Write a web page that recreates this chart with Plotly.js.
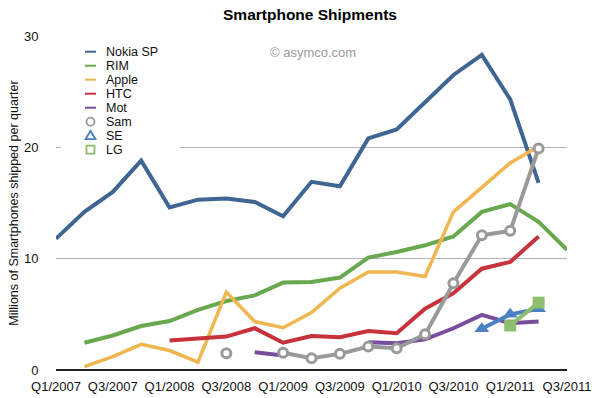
<!DOCTYPE html>
<html>
<head>
<meta charset="utf-8">
<script src="https://cdn.plot.ly/plotly-3.0.1.min.js"></script>
<style>html,body{margin:0;padding:0;background:#fff;}#chart{width:592px;height:398px;}</style>
</head>
<body>
<div id="chart"></div>
<script>
const quarters = ["Q1/2007","Q2/2007","Q3/2007","Q4/2007","Q1/2008","Q2/2008","Q3/2008","Q4/2008","Q1/2009","Q2/2009","Q3/2009","Q4/2009","Q1/2010","Q2/2010","Q3/2010","Q4/2010","Q1/2011","Q2/2011","Q3/2011"];
const tickLabels = ["Q1/2007","Q3/2007","Q1/2008","Q3/2008","Q1/2009","Q3/2009","Q1/2010","Q3/2010","Q1/2011","Q3/2011"];
const yTicks = [0, 10, 20, 30];

const seriesNames = ["Nokia SP","RIM","Apple","HTC","Mot","Sam","SE","LG"];
const nokia = [11.8,14.2,16.0,18.8,14.6,15.3,15.4,15.1,13.8,16.9,16.5,20.8,21.6,24.0,26.5,28.3,24.3,16.8,null];
const rim   = [null,2.45,3.1,3.95,4.4,5.4,6.2,6.7,7.85,7.9,8.3,10.1,10.6,11.2,12.0,14.2,14.9,13.3,10.8];
const apple = [null,0.3,1.2,2.3,1.75,0.7,7.0,4.35,3.8,5.15,7.35,8.8,8.8,8.4,14.2,16.4,18.6,20.1,null];
const htc   = [null,null,null,null,2.65,2.8,3.0,3.75,2.45,3.05,2.95,3.5,3.3,5.5,6.9,9.1,9.7,12.0,null];
const mot   = [null,null,null,null,null,null,null,1.6,1.3,null,null,2.5,2.4,2.75,3.75,4.95,4.2,4.35,null];
const sam   = [null,null,null,null,null,null,1.5,null,1.55,1.05,1.45,2.1,1.95,3.2,7.8,12.1,12.5,19.9,null];
const se    = [null,null,null,null,null,null,null,null,null,null,null,null,null,null,null,3.7,5.0,5.5,null];
const lg    = [null,null,null,null,null,null,null,null,null,null,null,null,null,null,null,null,4.0,6.05,null];

const colors = ['#3f6592','#68a84f','#f0b650','#c8323c','#7a4c9c','#9a9a9a','#4a80c4','#8dbe6f'];
const values = [nokia, rim, apple, htc, mot, sam, se, lg];
const markerSymbols = [null,null,null,null,null,'circle','triangle-up','square'];
const markerSizes = [0,0,0,0,0,9,13,12];

const traces = values.map((y, i) => {
  const t = {x: quarters, y: y, name: seriesNames[i], type: 'scatter',
    mode: markerSymbols[i] ? 'lines+markers' : 'lines', cliponaxis: false,
    showlegend: false, line: {color: colors[i], width: i === 2 ? 3.5 : 4}};
  if (markerSymbols[i]) {
    t.marker = markerSymbols[i] === 'circle'
      ? {symbol: 'circle', size: markerSizes[i], color: '#ffffff', line: {color: colors[i], width: 3}}
      : {symbol: markerSymbols[i], size: markerSizes[i], color: colors[i]};
  }
  return t;
});

// plot area geometry in pixels (for the hand-built legend)
const W = 592, H = 398, ML = 56, MR = 25, MT = 36, MB = 28;
const PW = W - ML - MR, PH = H - MT - MB;
const px = v => (v - ML) / PW;
const py = v => (H - MB - v) / PH;

const shapes = [{type: 'rect', xref: 'paper', yref: 'paper', x0: px(61), x1: px(180), y0: py(43), y1: py(156),
  fillcolor: '#ffffff', line: {width: 0}, layer: 'above'}];
const annotations = [];
seriesNames.forEach((name, i) => {
  const cy = 51.7 + 14 * i;
  const m = markerSymbols[i];
  if (!m) {
    shapes.push({type: 'line', xref: 'paper', yref: 'paper', x0: px(85), x1: px(96), y0: py(cy), y1: py(cy),
      line: {color: colors[i], width: 2}, layer: 'above'});
  } else if (m === 'circle') {
    shapes.push({type: 'circle', xref: 'paper', yref: 'paper', x0: px(86.5), x1: px(94.5), y0: py(cy - 4), y1: py(cy + 4),
      line: {color: colors[i], width: 1.8}, fillcolor: '#ffffff', layer: 'above'});
  } else if (m === 'triangle-up') {
    shapes.push({type: 'path', xref: 'paper', yref: 'paper',
      path: `M ${px(90.5)} ${py(cy - 5)} L ${px(95.5)} ${py(cy + 3.5)} L ${px(85.5)} ${py(cy + 3.5)} Z`,
      line: {color: colors[i], width: 1.8}, fillcolor: '#ffffff', layer: 'above'});
  } else {
    shapes.push({type: 'rect', xref: 'paper', yref: 'paper', x0: px(86.5), x1: px(94.5), y0: py(cy - 4), y1: py(cy + 4),
      line: {color: colors[i], width: 1.8}, fillcolor: '#ffffff', layer: 'above'});
  }
  annotations.push({text: name, xref: 'paper', yref: 'paper', x: px(104), y: py(cy),
    xanchor: 'left', yanchor: 'middle', showarrow: false, font: {size: 12.5, color: '#111'}});
});
annotations.push({text: '© asymco.com', xref: 'paper', yref: 'paper', x: px(268), y: py(52),
  xanchor: 'left', yanchor: 'middle', showarrow: false, font: {size: 13, color: '#9a9a9a'}});

const layout = {
  width: W, height: H,
  margin: {l: ML, r: MR, t: MT, b: MB, pad: 0},
  paper_bgcolor: '#ffffff', plot_bgcolor: '#ffffff',
  font: {family: 'Liberation Sans, Arial, sans-serif', color: '#111', size: 13},
  title: {text: 'Smartphone Shipments', font: {size: 15.5, color: '#000', weight: 'bold'},
    xref: 'paper', x: px(310), xanchor: 'center', yref: 'container', y: 1 - 15 / H, yanchor: 'middle'},
  showlegend: false,
  xaxis: {type: 'category', categoryorder: 'array', categoryarray: quarters,
    range: [0, 18], tickmode: 'array', tickvals: tickLabels, ticktext: tickLabels,
    showgrid: false, zeroline: false, showline: false,
    ticks: 'outside', ticklen: 4, tickcolor: 'rgba(0,0,0,0)',
    tickfont: {size: 13, color: '#111'}, fixedrange: true},
  yaxis: {range: [0, 30], tickmode: 'array', tickvals: yTicks,
    showgrid: true, gridcolor: '#b4b4b4', gridwidth: 1, zeroline: true,
    zerolinecolor: '#222', zerolinewidth: 1.5, showline: false,
    ticks: 'outside', ticklen: 14, tickcolor: 'rgba(0,0,0,0)',
    tickfont: {size: 13, color: '#111'},
    title: {text: 'Millions of Smartphones shipped per quarter', font: {size: 12.5, color: '#111'}, standoff: 2},
    fixedrange: true},
  shapes: shapes,
  annotations: annotations
};

Plotly.newPlot('chart', traces, layout, {displayModeBar: false, staticPlot: true});
</script>
</body>
</html>
